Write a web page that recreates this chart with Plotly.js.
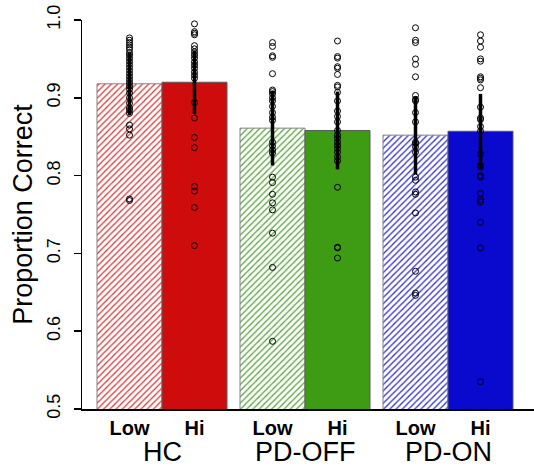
<!DOCTYPE html>
<html>
<head>
<meta charset="utf-8">
<script src="https://cdn.plot.ly/plotly-3.0.1.min.js"></script>
<style>
html,body{margin:0;padding:0;background:#fff;}
#chart{width:534px;height:466px;}
</style>
</head>
<body>
<div id="chart"></div>
<script>
// ---- data ----
var groups = ["HC", "PD-OFF", "PD-ON"];
var levels = ["Low", "Hi"];
var lowMeans = [0.918, 0.861, 0.852];
var hiMeans  = [0.920, 0.858, 0.857];
var lowErr = [0.040, 0.048, 0.050];
var hiErr  = [0.041, 0.050, 0.048];

var hcLow  = [0.977, 0.974, 0.971, 0.968, 0.965, 0.962, 0.958, 0.955, 0.951, 0.947, 0.943, 0.939, 0.935, 0.931, 0.927, 0.923, 0.919, 0.915, 0.911, 0.906, 0.900, 0.893, 0.887, 0.884, 0.880, 0.865, 0.860, 0.852, 0.770, 0.768];
var hcHi   = [0.995, 0.985, 0.983, 0.981, 0.967, 0.963, 0.959, 0.955, 0.951, 0.946, 0.942, 0.938, 0.933, 0.929, 0.925, 0.894, 0.874, 0.849, 0.836, 0.786, 0.780, 0.759, 0.710];
var offLow = [0.971, 0.966, 0.954, 0.952, 0.931, 0.910, 0.908, 0.905, 0.900, 0.896, 0.889, 0.881, 0.875, 0.871, 0.843, 0.838, 0.833, 0.829, 0.798, 0.791, 0.776, 0.765, 0.756, 0.726, 0.682, 0.587];
var offHi  = [0.973, 0.953, 0.951, 0.940, 0.938, 0.930, 0.916, 0.914, 0.907, 0.896, 0.883, 0.876, 0.869, 0.858, 0.852, 0.848, 0.843, 0.839, 0.835, 0.830, 0.824, 0.819, 0.785, 0.708, 0.707, 0.694];
var onLow  = [0.990, 0.974, 0.971, 0.950, 0.943, 0.927, 0.903, 0.898, 0.896, 0.881, 0.869, 0.843, 0.841, 0.837, 0.830, 0.798, 0.794, 0.779, 0.776, 0.752, 0.677, 0.649, 0.646];
var onHi   = [0.981, 0.973, 0.965, 0.950, 0.947, 0.927, 0.925, 0.923, 0.913, 0.888, 0.874, 0.872, 0.863, 0.857, 0.828, 0.813, 0.811, 0.800, 0.798, 0.777, 0.769, 0.766, 0.740, 0.707, 0.535];
var yTicks = [0.5, 0.6, 0.7, 0.8, 0.9, 1.0];
var yTickText = ["0.5", "0.6", "0.7", "0.8", "0.9", "1.0"];

// ---- styles / layout helpers ----
var solidColors = ["rgb(206,12,12)", "rgb(62,155,20)", "rgb(10,10,206)"];
var hatchColors = ["rgb(225,50,50)", "rgb(80,165,50)", "rgb(40,40,215)"];
var groupStep = 2.2;
function center(g, j) { return g * groupStep + 0.5 + j; }

var lowX = groups.map(function(_, g){ return center(g, 0); });
var hiX  = groups.map(function(_, g){ return center(g, 1); });

var traces = [];
traces.push({
  type: "bar", x: lowX, y: lowMeans, width: 1,
  marker: {
    color: "white",
    line: {color: "rgb(130,130,130)", width: 1},
    pattern: {shape: "/", fgcolor: hatchColors, bgcolor: "white", size: 4.4, solidity: 0.28, fgopacity: 1}
  },
  error_y: {type: "data", array: lowErr, visible: true, color: "black", thickness: 3.5, width: 0},
  hoverinfo: "skip", showlegend: false
});
traces.push({
  type: "bar", x: hiX, y: hiMeans, width: 1,
  marker: {color: solidColors, line: {color: "rgb(90,90,90)", width: 1}},
  error_y: {type: "data", array: hiErr, visible: true, color: "black", thickness: 3.5, width: 0},
  hoverinfo: "skip", showlegend: false
});

var pointSets = [[hcLow, hcHi], [offLow, offHi], [onLow, onHi]];
pointSets.forEach(function(pair, g){
  pair.forEach(function(vals, j){
    traces.push({
      type: "scatter", mode: "markers",
      x: vals.map(function(){ return center(g, j); }),
      y: vals,
      marker: {symbol: "circle-open", size: 6, color: "black", line: {width: 1, color: "black"}},
      cliponaxis: false, hoverinfo: "skip", showlegend: false
    });
  });
});

var tickVals = [], tickTxt = [];
groups.forEach(function(_, g){
  levels.forEach(function(lv, j){ tickVals.push(center(g, j)); tickTxt.push("<b>" + lv + "</b>"); });
});

var annotations = groups.map(function(name, g){
  return {
    text: name, x: center(g, 0) + 0.5, xref: "x", y: -0.11, yref: "paper",
    xanchor: "center", yanchor: "middle", showarrow: false,
    font: {size: 27, color: "black", family: "Liberation Sans, Arial, sans-serif"}
  };
});

var layout = {
  width: 534, height: 466,
  margin: {l: 82, r: 0, t: 20, b: 57},
  paper_bgcolor: "white", plot_bgcolor: "white",
  font: {family: "Liberation Sans, Arial, sans-serif", color: "black"},
  barmode: "overlay",
  xaxis: {
    range: [-15/65, 437/65], showgrid: false, zeroline: false,
    showline: true, linecolor: "black", linewidth: 2,
    tickvals: tickVals, ticktext: tickTxt, ticks: "",
    tickfont: {size: 20, color: "black"}, automargin: false
  },
  yaxis: {
    range: [0.5, 1.0], showgrid: false, zeroline: false,
    showline: true, linecolor: "black", linewidth: 1.5,
    tickvals: yTicks, ticktext: yTickText, tickangle: -90,
    ticks: "outside", ticklen: 7, tickwidth: 1.5, tickcolor: "black",
    ticklabelstandoff: 6,
    tickfont: {size: 18, color: "black"}, automargin: false,
    title: {text: "Proportion Correct", font: {size: 27, color: "black"}, standoff: 4}
  },
  annotations: annotations
};

Plotly.newPlot("chart", traces, layout, {staticPlot: true, displayModeBar: false});
</script>
</body>
</html>
